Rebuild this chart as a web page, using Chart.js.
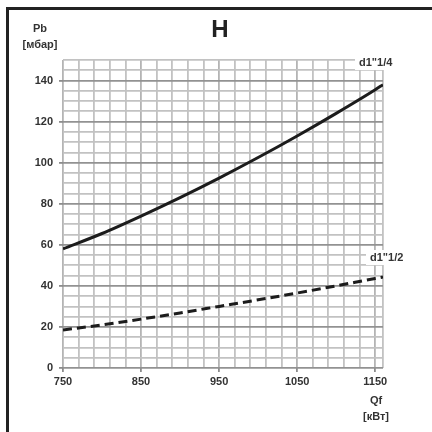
<!DOCTYPE html>
<html>
<head>
<meta charset="utf-8">
<script src="https://cdn.jsdelivr.net/npm/chart.js@4"></script>
<style>
  html, body { margin: 0; padding: 0; background: #fff; }
  #chart { display: block; }
</style>
</head>
<body>
<canvas id="chart" width="432" height="432"></canvas>
<script>
// Qf [кВт]
const qf = [750, 800, 850, 900, 950, 1000, 1050, 1100, 1150, 1160];
// Pb [мбар] for each pipe size
const pbD114 = [58, 65.5, 74, 83, 92.5, 102.5, 113, 124, 135.5, 138];
const pbD112 = [18.5, 21, 23.8, 26.8, 30, 33.2, 36.5, 40, 43.6, 44.3];
const seriesNames = ['d1"1/4', 'd1"1/2'];
const xLabels = [750, 850, 950, 1050, 1150];
const yLabels = [0, 20, 40, 60, 80, 100, 120, 140];

const toPoints = (ys) => qf.map((x, i) => ({ x: x, y: ys[i] }));

const FONT = "'Liberation Sans', Arial, sans-serif";

const decor = {
  id: "decor",
  afterDraw(chart) {
    const ctx = chart.ctx;
    ctx.save();

    // frame (top + left)
    ctx.strokeStyle = "#222";
    ctx.lineWidth = 3;
    ctx.beginPath();
    ctx.moveTo(432, 8.5);
    ctx.lineTo(7.5, 8.5);
    ctx.lineTo(7.5, 432);
    ctx.stroke();

    ctx.fillStyle = "#222";
    ctx.textAlign = "center";
    ctx.textBaseline = "middle";
    ctx.font = "bold 24px " + FONT;
    ctx.fillText("H", 220, 30);

    ctx.fillStyle = "#333";
    ctx.font = "bold 11px " + FONT;
    ctx.fillText("Pb", 40, 29);
    ctx.fillText("[мбар]", 40, 45);
    ctx.fillText("Qf", 376, 401);
    ctx.fillText("[кВт]", 376, 417);

    // series labels with white boxes
    const lab = (txt, x, y) => {
      ctx.font = "bold 11px " + FONT;
      const w = ctx.measureText(txt).width;
      ctx.fillStyle = "#fff";
      ctx.fillRect(x - 4, y - 8, w + 8, 15);
      ctx.fillStyle = "#333";
      ctx.textAlign = "left";
      ctx.fillText(txt, x, y);
    };
    lab(seriesNames[0], 359, 63);
    lab(seriesNames[1], 370, 258);
    ctx.restore();
  }
};

const isMajorY = (v) => v % 20 === 0;
const isMajorX = (v) => (v - 750) % 100 === 0 && v <= 1150;

new Chart(document.getElementById("chart"), {
  type: "line",
  data: {
    datasets: [
      {
        label: seriesNames[0],
        data: toPoints(pbD114),
        borderColor: "#1c1c1c",
        borderWidth: 3,
        pointRadius: 0,
        cubicInterpolationMode: "monotone",
        fill: false
      },
      {
        label: seriesNames[1],
        data: toPoints(pbD112),
        borderColor: "#1c1c1c",
        borderWidth: 3,
        borderDash: [9, 5],
        pointRadius: 0,
        cubicInterpolationMode: "monotone",
        fill: false
      }
    ]
  },
  options: {
    responsive: false,
    animation: false,
    layout: { padding: { top: 60, right: 49, left: 0, bottom: 0 } },
    plugins: {
      legend: { display: false },
      tooltip: { enabled: false },
      title: { display: false }
    },
    scales: {
      x: {
        type: "linear",
        min: 750,
        max: 1160,
        afterFit: (s) => { s.height = 64; },
        afterBuildTicks: (s) => {
          const t = [];
          for (let v = 750; v <= 1150; v += 20) t.push({ value: v });
          t.push({ value: 1160 });
          s.ticks = t;
        },
        border: { display: false },
        grid: {
          color: (c) => isMajorX(c.tick.value) ? "#b4b4b4" : "#c2c2c2",
          lineWidth: 1.8,
          tickLength: 4,
          tickColor: (c) => isMajorX(c.tick.value) ? "#8c8c8c" : "rgba(0,0,0,0)"
        },
        ticks: {
          padding: 3,
          maxRotation: 0,
          autoSkip: false,
          color: "#333",
          font: { family: FONT, size: 11, weight: "bold" },
          callback: (v) => xLabels.includes(v) ? String(v) : ""
        }
      },
      y: {
        min: 0,
        max: 150,
        afterFit: (s) => { s.width = 63; },
        border: { display: false },
        grid: {
          color: (c) => isMajorY(c.tick.value) ? "#929292" : "#c2c2c2",
          lineWidth: 1.8,
          tickLength: 4,
          tickColor: (c) => isMajorY(c.tick.value) ? "#8c8c8c" : "rgba(0,0,0,0)"
        },
        ticks: {
          stepSize: 5,
          padding: 6,
          autoSkip: false,
          color: "#333",
          font: { family: FONT, size: 11, weight: "bold" },
          callback: (v) => yLabels.includes(v) ? String(v) : ""
        }
      }
    }
  },
  plugins: [decor]
});
</script>
</body>
</html>
